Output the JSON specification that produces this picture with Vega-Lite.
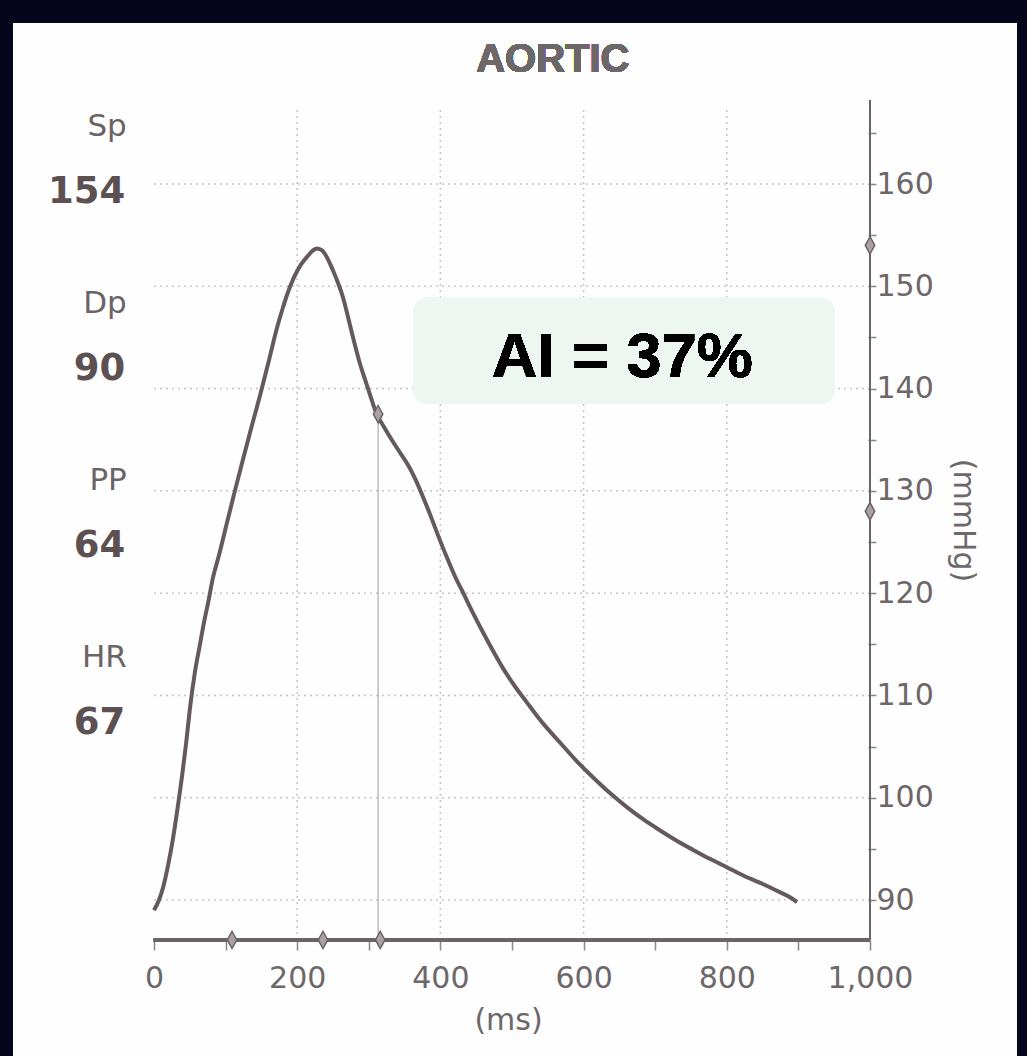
{
  "$schema": "https://vega.github.io/schema/vega-lite/v6.json",
  "width": 1004,
  "height": 1033,
  "autosize": {"type": "none"},
  "padding": {"left": 13, "top": 23, "right": 10, "bottom": 0},
  "background": "#05051c",
  "config": {"view": {"fill": "#fefefe", "stroke": null}},
  "datasets": {
    "curve": [
      {"t": 0, "p": 89.0}, {"t": 7, "p": 90.0}, {"t": 13, "p": 91.3}, {"t": 20, "p": 93.5}, {"t": 27, "p": 96.2},
      {"t": 33, "p": 99.0}, {"t": 39, "p": 102.0}, {"t": 45, "p": 105.4}, {"t": 50, "p": 108.6}, {"t": 57, "p": 112.2},
      {"t": 64, "p": 114.9}, {"t": 70, "p": 117.2}, {"t": 76, "p": 119.2}, {"t": 82, "p": 121.4}, {"t": 90, "p": 123.5},
      {"t": 102, "p": 126.9}, {"t": 113, "p": 130.0}, {"t": 124, "p": 133.0}, {"t": 136, "p": 136.2}, {"t": 148, "p": 139.3},
      {"t": 160, "p": 142.6}, {"t": 172, "p": 146.0}, {"t": 180, "p": 147.9}, {"t": 186, "p": 149.2}, {"t": 195, "p": 150.8},
      {"t": 205, "p": 152.1}, {"t": 214, "p": 152.9}, {"t": 222, "p": 153.5}, {"t": 228, "p": 153.7}, {"t": 235, "p": 153.5},
      {"t": 241, "p": 152.9}, {"t": 246, "p": 152.2}, {"t": 255, "p": 150.7}, {"t": 264, "p": 148.9}, {"t": 271, "p": 147.0},
      {"t": 278, "p": 145.0}, {"t": 287, "p": 142.6}, {"t": 297, "p": 140.4}, {"t": 305, "p": 138.7}, {"t": 311, "p": 137.5},
      {"t": 320, "p": 136.4}, {"t": 332, "p": 135.0}, {"t": 344, "p": 133.7}, {"t": 355, "p": 132.5}, {"t": 364, "p": 131.3},
      {"t": 374, "p": 129.7}, {"t": 385, "p": 127.8}, {"t": 397, "p": 125.6}, {"t": 409, "p": 123.5}, {"t": 420, "p": 121.7},
      {"t": 432, "p": 120.0}, {"t": 446, "p": 118.0}, {"t": 460, "p": 116.1}, {"t": 474, "p": 114.3}, {"t": 488, "p": 112.6},
      {"t": 505, "p": 110.8}, {"t": 521, "p": 109.3}, {"t": 535, "p": 108.0}, {"t": 549, "p": 106.8}, {"t": 567, "p": 105.4},
      {"t": 590, "p": 103.6}, {"t": 613, "p": 102.0}, {"t": 636, "p": 100.5}, {"t": 660, "p": 99.1}, {"t": 683, "p": 97.9},
      {"t": 707, "p": 96.8}, {"t": 730, "p": 95.8}, {"t": 753, "p": 94.9}, {"t": 777, "p": 94.0}, {"t": 800, "p": 93.2},
      {"t": 823, "p": 92.4}, {"t": 846, "p": 91.7}, {"t": 870, "p": 90.9}, {"t": 890, "p": 90.2}, {"t": 898, "p": 89.8}
    ],
    "gridH": [{"p": 90}, {"p": 100}, {"p": 110}, {"p": 120}, {"p": 130}, {"p": 140}, {"p": 150}, {"p": 160}],
    "gridV": [{"t": 200}, {"t": 400}, {"t": 600}, {"t": 800}],
    "events": [{"t": 109}, {"t": 236}, {"t": 316}],
    "rightMarks": [{"p": 154}, {"p": 128}],
    "inflection": [{"t": 313, "p": 137.5}],
    "stats": [
      {"stat": "Sp", "value": "154"},
      {"stat": "Dp", "value": "90"},
      {"stat": "PP", "value": "64"},
      {"stat": "HR", "value": "67"}
    ]
  },
  "layer": [
    {
      "layer": [
        {
          "data": {"name": "gridH"},
          "mark": {"type": "rule", "color": "#c4c4c4", "strokeWidth": 1.5, "strokeDash": [2, 4]},
          "encoding": {
            "y": {"field": "p", "type": "quantitative", "scale": {"domain": [74.75, 175.74], "nice": false, "zero": false}},
            "x": {"datum": 0, "type": "quantitative"},
            "x2": {"datum": 1000}
          }
        },
        {
          "data": {"name": "gridV"},
          "mark": {"type": "rule", "color": "#c4c4c4", "strokeWidth": 1.5, "strokeDash": [2, 4]},
          "encoding": {
            "x": {"field": "t", "type": "quantitative"},
            "y": {"datum": 86.1, "type": "quantitative"},
            "y2": {"datum": 167.5}
          }
        },
        {
          "data": {"name": "curve"},
          "mark": {"type": "rect", "fill": "#edf6f1", "cornerRadius": 15},
          "encoding": {
            "x": {"datum": 362, "type": "quantitative"},
            "x2": {"datum": 951},
            "y": {"datum": 148.9, "type": "quantitative"},
            "y2": {"datum": 138.5}
          }
        },
        {
          "data": {"name": "curve"},
          "mark": {"type": "text", "text": "AI = 37%", "font": "Liberation Sans", "fontSize": 63, "fontWeight": "bold", "color": "#000000", "align": "center", "baseline": "alphabetic"},
          "encoding": {
            "x": {"datum": 654, "type": "quantitative"},
            "y": {"datum": 141.1, "type": "quantitative"}
          }
        },
        {
          "data": {"name": "curve"},
          "mark": {"type": "text", "text": "AORTIC", "font": "Liberation Sans", "fontSize": 40, "fontWeight": "bold", "color": "#6d6769", "align": "center", "baseline": "alphabetic"},
          "encoding": {
            "x": {"datum": 557, "type": "quantitative"},
            "y": {"datum": 170.95, "type": "quantitative"}
          }
        },
        {
          "data": {"name": "inflection"},
          "mark": {"type": "rule", "color": "#a9a9a9", "strokeWidth": 1.2},
          "encoding": {
            "x": {"field": "t", "type": "quantitative"},
            "y": {"field": "p", "type": "quantitative"},
            "y2": {"datum": 86.1}
          }
        },
        {
          "data": {"name": "curve"},
          "mark": {"type": "line", "color": "#645a5d", "strokeWidth": 4, "interpolate": "monotone"},
          "encoding": {
            "x": {
              "field": "t", "type": "quantitative",
              "scale": {"domain": [-196.9, 1205.3], "nice": false, "zero": false},
              "axis": {
                "orient": "bottom", "offset": -116,
                "values": [0, 100, 200, 300, 400, 500, 600, 700, 800, 900, 1000],
                "labelExpr": "datum.value % 200 === 0 ? format(datum.value, ',') : ''",
                "domain": false, "grid": false,
                "tickSize": 10, "tickWidth": 1.5, "tickColor": "#8a8486",
                "labelFont": "DejaVu Sans", "labelFontSize": 30, "labelColor": "#6d6769", "labelPadding": 13,
                "labelFlush": false, "labelOverlap": false,
                "title": "(ms)", "titleFont": "DejaVu Sans", "titleFontSize": 30, "titleFontWeight": "normal", "titleColor": "#6d6769", "titlePadding": 12, "titleX": 495
              }
            },
            "y": {
              "field": "p", "type": "quantitative",
              "axis": {
                "orient": "right", "offset": -149,
                "values": [90, 95, 100, 105, 110, 115, 120, 125, 130, 135, 140, 145, 150, 155, 160, 165],
                "labelExpr": "datum.value % 10 === 0 && datum.value <= 160 ? datum.label : ''",
                "domain": false, "grid": false,
                "tickSize": 8, "tickWidth": 1.5, "tickColor": "#8a8486",
                "labelFont": "DejaVu Sans", "labelFontSize": 30, "labelColor": "#6d6769", "labelPadding": 0,
                "labelOverlap": false,
                "title": "(mmHg)", "titleFont": "DejaVu Sans", "titleFontSize": 30, "titleFontWeight": "normal", "titleColor": "#6d6769", "titlePadding": 14, "titleY": 497, "titleAngle": 90
              }
            }
          }
        },
        {
          "data": {"name": "curve"},
          "mark": {"type": "rule", "color": "#6b6366", "strokeWidth": 4},
          "encoding": {
            "x": {"datum": 0, "type": "quantitative"},
            "x2": {"datum": 1000},
            "y": {"datum": 86.1, "type": "quantitative"}
          }
        },
        {
          "data": {"name": "curve"},
          "mark": {"type": "rule", "color": "#6b6366", "strokeWidth": 2},
          "encoding": {
            "x": {"datum": 1000, "type": "quantitative"},
            "y": {"datum": 86.1, "type": "quantitative"},
            "y2": {"datum": 168.2}
          }
        },
        {
          "data": {"name": "events"},
          "mark": {"type": "point", "shape": "M0,-1L0.55,0L0,1L-0.55,0Z", "size": 300, "filled": true, "fill": "#a8a0a2", "stroke": "#6a6264", "strokeWidth": 1.5, "opacity": 1},
          "encoding": {
            "x": {"field": "t", "type": "quantitative"},
            "y": {"datum": 86.1, "type": "quantitative"}
          }
        },
        {
          "data": {"name": "rightMarks"},
          "mark": {"type": "point", "shape": "M0,-1L0.55,0L0,1L-0.55,0Z", "size": 300, "filled": true, "fill": "#a8a0a2", "stroke": "#6a6264", "strokeWidth": 1.5, "opacity": 1},
          "encoding": {
            "x": {"datum": 1000, "type": "quantitative"},
            "y": {"field": "p", "type": "quantitative"}
          }
        },
        {
          "data": {"name": "inflection"},
          "mark": {"type": "point", "shape": "M0,-1L0.55,0L0,1L-0.55,0Z", "size": 300, "filled": true, "fill": "#a8a0a2", "stroke": "#6a6264", "strokeWidth": 1.5, "opacity": 1},
          "encoding": {
            "x": {"field": "t", "type": "quantitative"},
            "y": {"field": "p", "type": "quantitative"}
          }
        }
      ]
    },
    {
      "data": {"name": "stats"},
      "layer": [
        {
          "mark": {"type": "text", "align": "right", "baseline": "alphabetic", "font": "DejaVu Sans", "fontSize": 31, "color": "#6b6466"},
          "encoding": {
            "x": {"datum": -38, "type": "quantitative"},
            "y": {"field": "stat", "type": "nominal", "scale": {"type": "point", "domain": ["Sp", "Dp", "PP", "HR"], "range": [113, 644], "padding": 0}, "axis": null},
            "text": {"field": "stat"}
          }
        },
        {
          "mark": {"type": "text", "align": "right", "baseline": "alphabetic", "font": "DejaVu Sans", "fontSize": 37, "fontWeight": "bold", "color": "#5c5052", "dy": 67},
          "encoding": {
            "x": {"datum": -40, "type": "quantitative"},
            "y": {"field": "stat", "type": "nominal", "axis": null},
            "text": {"field": "value"}
          }
        }
      ]
    }
  ],
  "resolve": {"scale": {"y": "independent"}, "axis": {"y": "independent"}}
}
